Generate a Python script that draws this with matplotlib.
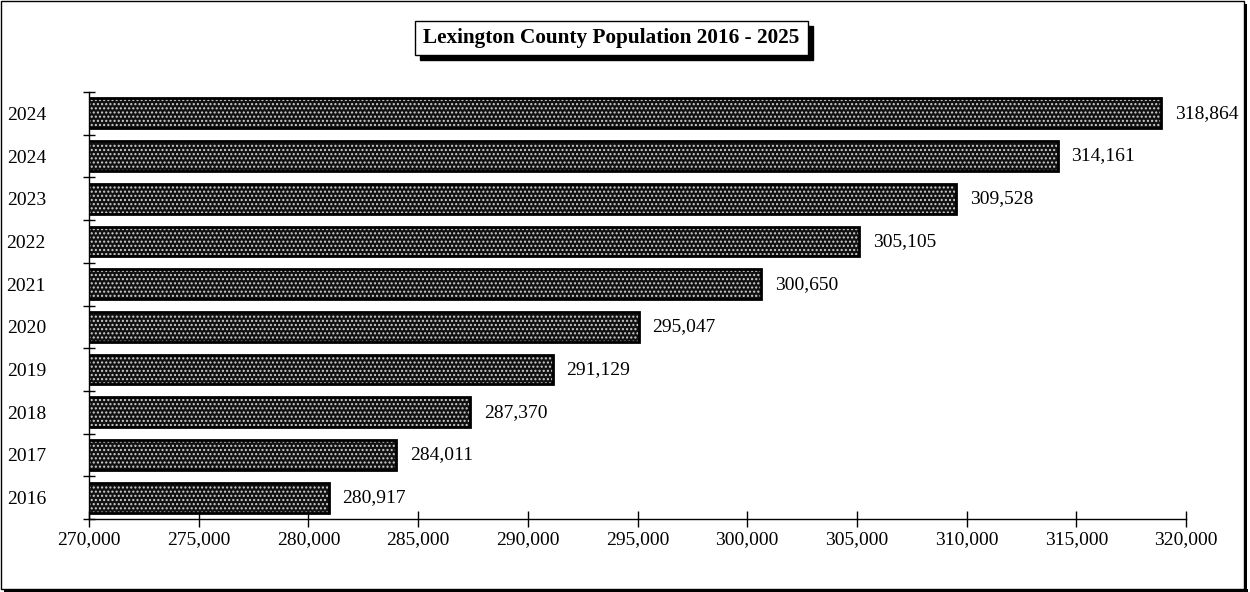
import matplotlib.pyplot as plt
from matplotlib.patches import Rectangle
from matplotlib.ticker import FuncFormatter, FixedLocator

years = ['2016', '2017', '2018', '2019', '2020', '2021', '2022', '2023', '2024', '2024']
population = [280917, 284011, 287370, 291129, 295047, 300650, 305105, 309528, 314161, 318864]
x_ticks = [270000, 275000, 280000, 285000, 290000, 295000, 300000, 305000, 310000, 315000, 320000]
title = 'Lexington County Population 2016 - 2025'

plt.rcParams['font.family'] = ['Liberation Serif', 'DejaVu Serif']
plt.rcParams['hatch.linewidth'] = 1.0

fig = plt.figure(figsize=(12.5, 5.92), dpi=100)
ax = fig.add_axes([0.0712, 0.1233, 0.8776, 0.7213])

pos = list(range(len(years)))
# patterned fill, then black outline on top
ax.barh(pos, population, height=0.7, left=0, color='#111111', edgecolor='#d0d0d0',
        hatch='....', linewidth=0, zorder=2)
ax.barh(pos, population, height=0.7, left=0, fill=False, edgecolor='black',
        linewidth=2.0, zorder=3)

for p, v in zip(pos, population):
    ax.text(v + 620, p, '{:,}'.format(v), va='center', ha='left', fontsize=14, zorder=4)

ax.set_xlim(270000, 320000)
ax.set_ylim(-0.5, len(years) - 0.5)
ax.set_xticks(x_ticks)
ax.xaxis.set_major_formatter(FuncFormatter(lambda v, _: '{:,}'.format(int(v))))
ax.set_yticks(pos)
ax.set_yticklabels(years)
ax.yaxis.set_minor_locator(FixedLocator([p + 0.5 for p in range(-1, len(years))]))
ax.tick_params(axis='y', which='major', length=0, pad=31, labelsize=14)
ax.tick_params(axis='y', which='minor', direction='inout', length=8, width=1)
ax.tick_params(axis='x', which='major', direction='inout', length=11.5, width=1, pad=3, labelsize=14)

for s in ['top', 'right']:
    ax.spines[s].set_visible(False)
ax.spines['left'].set_linewidth(1)
ax.spines['bottom'].set_linewidth(1)

# title box with shadow
tx, ty = 415 / 1250, 1 - 55 / 592
tw, th = 393 / 1250, 34 / 592
fig.patches.append(Rectangle((tx + 5 / 1250, ty - 5 / 592), tw, th, transform=fig.transFigure,
                             facecolor='black', edgecolor='black', zorder=5))
fig.patches.append(Rectangle((tx, ty), tw, th, transform=fig.transFigure,
                             facecolor='white', edgecolor='black', linewidth=1, zorder=6))
fig.text(tx + tw / 2, ty + th / 2, title, ha='center', va='center', fontsize=15.3,
         fontweight='bold', zorder=7)

# outer frame with shadow
fig.patches.append(Rectangle((1 / 1250, 3 / 592), 1243 / 1250, 588 / 592, transform=fig.transFigure,
                             fill=False, edgecolor='black', linewidth=1, zorder=1))
fig.patches.append(Rectangle((4 / 1250, 0), 1244 / 1250, 3 / 592, transform=fig.transFigure,
                             facecolor='black', linewidth=0, zorder=1))
fig.patches.append(Rectangle((1244 / 1250, 0), 3 / 1250, 588 / 592, transform=fig.transFigure,
                             facecolor='black', linewidth=0, zorder=1))

fig.savefig('out.png', dpi=100)
